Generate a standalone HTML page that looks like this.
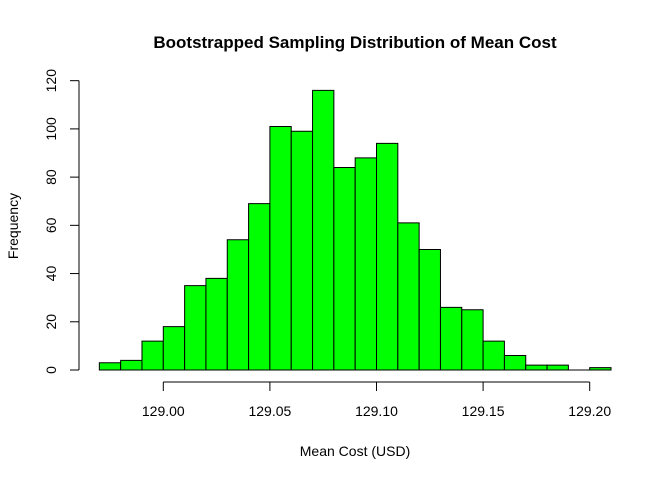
<!DOCTYPE html>
<html><head><meta charset="utf-8"><style>
body{margin:0;background:#fff}
svg{display:block;font-family:"Liberation Sans",Arial,sans-serif}
</style></head><body>
<svg id="chart" width="672" height="480" xmlns="http://www.w3.org/2000/svg">
<rect width="672" height="480" fill="#fff"/>
<text x="355" y="48" text-anchor="middle" font-size="17" font-weight="bold">Bootstrapped Sampling Distribution of Mean Cost</text>
<text x="355" y="456" text-anchor="middle" font-size="14">Mean Cost (USD)</text>
<text transform="translate(18,226) rotate(-90)" text-anchor="middle" font-size="14">Frequency</text>
<g id="bars"></g><g id="xaxis"></g><g id="yaxis"></g>
</svg>
<script>
const binStart = 128.97;
const binWidth = 0.01;
const counts = [3,4,12,18,35,38,54,69,101,99,116,84,88,94,61,50,26,25,12,6,2,2,0,1];
const xTicks = [129.00,129.05,129.10,129.15,129.20];
const xTickLabels = ["129.00","129.05","129.10","129.15","129.20"];
const yTicks = [0,20,40,60,80,100,120];
const ns="http://www.w3.org/2000/svg";
const xs=v=>163.3+(v-129.0)*2132;
const ys=v=>370-v*2.411;
function mk(t,a,p){const e=document.createElementNS(ns,t);for(const k in a)e.setAttribute(k,a[k]);p.appendChild(e);return e;}
const bg=document.getElementById('bars');
counts.forEach((c,i)=>{
  const x0=xs(binStart+i*binWidth),x1=xs(binStart+(i+1)*binWidth);
  const y0=ys(0),y1=ys(c);
  const r=mk('path',{d:`M${x0},${y0}L${x0},${y1}L${x1},${y1}L${x1},${y0}Z`,fill:'#00ff00',stroke:'#000','stroke-width':1},bg);
  
  
});
const xg=document.getElementById('xaxis');
mk('line',{x1:xs(xTicks[0]),x2:xs(xTicks[xTicks.length-1]),y1:382,y2:382,stroke:'#000'},xg);
xTicks.forEach((v,i)=>{
  mk('line',{x1:xs(v),x2:xs(v),y1:382,y2:391,stroke:'#000'},xg);
  const t=mk('text',{x:xs(v),y:416,'text-anchor':'middle','font-size':14},xg);
  t.textContent=xTickLabels[i];
  
  
});
const yg=document.getElementById('yaxis');
mk('line',{x1:79,x2:79,y1:ys(yTicks[0]),y2:ys(yTicks[yTicks.length-1]),stroke:'#000'},yg);
yTicks.forEach(v=>{
  mk('line',{x1:70,x2:79,y1:ys(v),y2:ys(v),stroke:'#000'},yg);
  const t=mk('text',{transform:`translate(56,${ys(v)}) rotate(-90)`,'text-anchor':'middle','font-size':14},yg);
  t.textContent=v;
  
  
});
</script>
</body></html>
